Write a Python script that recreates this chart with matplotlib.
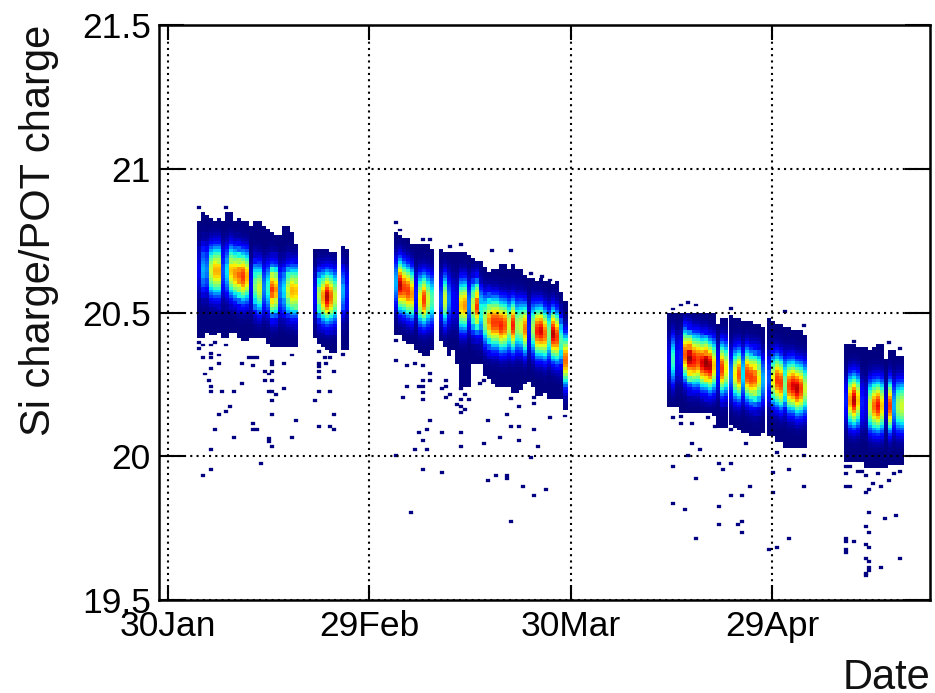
import numpy as np
import matplotlib
matplotlib.use("Agg")
import matplotlib.pyplot as plt

plt.rcParams['font.family'] = ['Liberation Sans', 'DejaVu Sans']

bin_x = 0.6
bin_y = 0.01

# each block: first day, then per column ridge / peak / top / bottom. None = empty column
starts = [4.39, 21.68, 33.74, 74.4, 83.6, 89.26, 100.7]

ridges = [
	[20.65, 20.65, 20.65, 20.645, 20.645, 20.64, 20.64, 20.64, 20.64, 20.635, 20.63, 20.625, 20.62,
	 20.59, 20.59, 20.585, 20.585, 20.585, 20.58, 20.58, 20.58, 20.58, 20.58, 20.575, 20.57],
	[20.56, 20.56, 20.555, 20.55, 20.55, 20.55, None, 20.57, 20.57],
	[20.60, 20.596, 20.584, 20.572, 20.567, 20.56, 20.549, 20.549, 20.549, 20.545, None, 20.543, 20.543, 20.543, 20.54,
	 20.53, 20.526, 20.526, 20.525, 20.52, 20.52, 20.50, 20.474, 20.47, 20.468, 20.46, 20.456, 20.456, 20.456, 20.456,
	 20.451, 20.451, 20.445, 20.445, 20.445, 20.439, 20.433, 20.428, 20.428, 20.422, 20.416, 20.40, 20.335],
	[20.335, 20.335, 20.34, 20.346, 20.352, 20.34, 20.335, 20.332, 20.329, 20.32, 20.317, 20.314, 20.306, 20.30, 20.30],
	[20.288, 20.288, 20.288, 20.286, 20.282, 20.277, 20.27, 20.27, 20.267],
	[20.27, 20.265, 20.26, 20.253, 20.25, 20.248, 20.242, 20.236, 20.236, 20.233],
	[20.19, 20.19, 20.19, 20.19, 20.184, 20.18, 20.178, 20.178, 20.178, 20.178, 20.175, 20.172, 20.172, 20.172, 20.172],
]

peaks = [
	[0.1, 0.3, 0.25, 0.6, 0.72, 0.72, 0.2, 0.35, 0.7, 0.75, 0.8, 0.85, 0.72,
	 0.12, 0.5, 0.6, 0.25, 0.4, 0.85, 0.75, 0.25, 0.35, 0.6, 0.72, 0.7],
	[0.12, 0.55, 0.75, 0.95, 0.8, 0.6, None, 0.3, 0.15],
	[0.3, 0.95, 0.85, 0.85, 0.75, 0.15, 0.65, 0.85, 0.6, 0.45, None, 0.2, 0.6, 0.25, 0.12,
	 0.1, 0.7, 0.75, 0.25, 0.6, 0.85, 0.4, 0.55, 0.75, 0.85, 0.85, 0.88, 0.82, 0.6, 0.88,
	 0.55, 0.6, 0.78, 0.15, 0.55, 0.88, 0.92, 0.8, 0.5, 0.95, 0.85, 0.45, 0.8],
	[0.1, 0.42, 0.12, 0.15, 0.82, 0.98, 0.9, 0.85, 0.92, 0.98, 0.95, 0.7, 0.15, 0.85, 0.65],
	[0.25, 0.65, 0.82, 0.35, 0.85, 0.85, 0.82, 0.65, 0.3],
	[0.2, 0.65, 0.85, 0.85, 0.5, 0.85, 0.92, 0.95, 0.85, 0.6],
	[0.15, 0.75, 0.95, 0.7, 0.15, 0.1, 0.6, 0.8, 0.9, 0.7, 0.08, 0.85, 0.3, 0.55, 0.6],
]

tops = [
	[20.82, 20.85, 20.84, 20.83, 20.82, 20.83, 20.82, 20.85, 20.85, 20.82, 20.83, 20.82, 20.82,
	 20.80, 20.82, 20.82, 20.80, 20.79, 20.78, 20.77, 20.77, 20.80, 20.80, 20.78, 20.74],
	[20.72, 20.72, 20.72, 20.72, 20.71, 20.71, None, 20.73, 20.72],
	[20.78, 20.77, 20.76, 20.76, 20.74, 20.74, 20.74, 20.74, 20.74, 20.72, None, 20.72, 20.71, 20.71, 20.71,
	 20.71, 20.71, 20.71, 20.70, 20.69, 20.68, 20.68, 20.66, 20.64, 20.65, 20.65, 20.67, 20.67, 20.65, 20.67,
	 20.65, 20.65, 20.63, 20.62, 20.62, 20.61, 20.62, 20.61, 20.61, 20.60, 20.61, 20.57, 20.54],
	[20.50, 20.50, 20.50, 20.50, 20.50, 20.50, 20.50, 20.50, 20.50, 20.50, 20.50, 20.50, 20.46, 20.48, 20.48],
	[20.49, 20.48, 20.48, 20.47, 20.47, 20.47, 20.46, 20.46, 20.45],
	[20.48, 20.47, 20.46, 20.46, 20.45, 20.445, 20.44, 20.44, 20.44, 20.42],
	[20.39, 20.39, 20.39, 20.38, 20.38, 20.38, 20.37, 20.375, 20.39, 20.39, 20.34, 20.37, 20.37, 20.35, 20.35],
]

bottoms = [
	[20.41, 20.41, 20.43, 20.42, 20.42, 20.43, 20.41, 20.41, 20.43, 20.43, 20.41, 20.40, 20.40,
	 20.41, 20.41, 20.41, 20.41, 20.39, 20.38, 20.38, 20.38, 20.38, 20.38, 20.38, 20.38],
	[20.41, 20.39, 20.38, 20.375, 20.36, 20.36, None, 20.37, 20.37],
	[20.42, 20.42, 20.40, 20.39, 20.39, 20.37, 20.36, 20.35, 20.35, 20.37, None, 20.40, 20.38, 20.35, 20.37,
	 20.32, 20.24, 20.24, 20.24, 20.32, 20.32, 20.32, 20.28, 20.27, 20.25, 20.24, 20.24, 20.24, 20.24, 20.22,
	 20.22, 20.23, 20.25, 20.26, 20.24, 20.21, 20.21, 20.22, 20.20, 20.20, 20.20, 20.20, 20.16],
	[20.17, 20.17, 20.17, 20.15, 20.15, 20.15, 20.15, 20.15, 20.15, 20.15, 20.15, 20.14, 20.10, 20.10, 20.10],
	[20.11, 20.10, 20.09, 20.08, 20.08, 20.07, 20.07, 20.07, 20.08],
	[20.07, 20.07, 20.05, 20.045, 20.03, 20.03, 20.03, 20.03, 20.03, 20.03],
	[19.98, 19.98, 19.98, 19.975, 19.975, 19.963, 19.963, 19.958, 19.958, 19.963, 19.963, 19.97, 19.97, 19.97, 19.97],
]

# relative height of a column, one entry per 0.01 away from its ridge
profile = [1.0, 0.985, 0.94, 0.87, 0.78, 0.68, 0.575, 0.47, 0.37, 0.28, 0.19, 0.13, 0.085, 0.05, 0.03, 0.015, 0.01, 0.0]

# single entries outside the main bands
stray_days = [
	4.69, 8.71, 4.69, 5.28, 6.47, 7.07, 8.71, 4.69, 5.28, 6.47, 6.47, 7.66, 7.66, 6.47, 5.58, 6.18, 6.47, 6.47, 8.11, 9.9,
	11.09, 11.09, 9.3, 8.71, 7.66, 7.07, 9.9, 6.47, 6.47, 5.28, 12.77, 12.17, 13.37, 12.77, 15.55, 15.55, 14.5, 15.55, 15.1,
	15.55, 14.5, 17.34, 17.34, 15.1, 15.55, 16.15, 15.55, 15.55, 12.72, 12.72, 13.37, 19.12, 15.1, 15.1, 18.53, 15.55, 13.91,
	22.54, 23.49, 24.18, 22.54, 22.54, 23.6, 22.54, 24.78, 22.54, 22.54, 24.18, 21.95, 24.78, 22.54, 24.18, 24.78, 26.17, 18.58,
	34.0, 34.6, 34.0, 34.0, 35.64, 36.83, 38.02, 39.06, 39.06, 38.02, 35.64, 37.42, 38.02, 38.02, 35.04, 38.02, 41.44, 41.44,
	40.85, 42.04, 41.44, 39.06, 38.61, 37.42, 40.85, 43.67, 38.02, 36.83, 38.61, 43.67, 34.0, 38.02, 40.85, 36.23, 43.67, 44.27,
	43.67, 44.86, 43.08, 43.67, 44.27, 43.67, 46.5, 47.1, 50.52, 47.69, 51.11, 52.3, 54.58, 49.48, 52.3, 47.1, 55.13, 54.09,
	48.88, 50.52, 50.52, 47.69, 52.9, 56.32, 54.54, 51.11, 52.3, 54.58, 56.92, 59.15, 51.11, 54.58, 51.11, 48.29, 54.09, 55.73,
	56.92, 42.04, 43.67, 39.06, 38.02,
	77.5, 76.41, 78.65, 75.22, 83.85, 91.89, 94.77, 75.22, 76.41, 76.41, 78.05, 80.43, 81.52, 83.85, 78.05, 79.24, 77.45, 86.14,
	75.22, 82.12, 83.85, 82.71, 78.65, 86.68, 83.85, 85.54, 75.22, 77.01, 82.12, 82.12, 85.54, 84.94, 85.54, 78.65, 90.7, 94.77,
	92.48, 90.15, 94.77, 90.15, 92.48, 90.7, 89.56,
	102.2, 107.37, 109.05, 101.02, 101.61, 101.02, 102.8, 103.4, 104.0, 105.78, 108.16, 109.0, 107.42, 105.03, 106.22, 101.02,
	101.61, 104.44, 104.0, 104.44, 106.82, 108.46, 104.0, 104.44, 101.02, 101.02, 102.2, 104.0, 104.44, 101.02, 101.02, 104.0,
	104.44, 109.05, 106.22, 104.44, 104.44, 104.0, 104.0,
]
stray_values = [
	20.866, 20.866, 20.395, 20.387, 20.387, 20.395, 20.387, 20.375, 20.344, 20.358, 20.344, 20.352, 20.323, 20.306, 20.286, 20.265, 20.242, 20.226, 20.226, 20.226,
	20.323, 20.254, 20.173, 20.156, 20.146, 20.094, 20.066, 20.024, 19.954, 19.933, 20.344, 20.344, 20.344, 20.317, 20.329, 20.319, 20.294, 20.294, 20.286,
	20.265, 20.265, 20.323, 20.236, 20.226, 20.226, 20.215, 20.194, 20.146, 20.114, 20.094, 20.094, 20.125, 20.062, 20.052, 20.066, 20.034, 19.975,
	20.365, 20.344, 20.344, 20.323, 20.313, 20.323, 20.294, 20.294, 20.274, 20.226, 20.226, 20.194, 20.146, 20.104, 20.104, 20.094, 20.354, 20.352,
	20.814, 20.787, 20.404, 20.334, 20.317, 20.323, 20.317, 20.288, 20.265, 20.265, 20.244, 20.244, 20.244, 20.221, 20.205, 20.196, 20.265, 20.242,
	20.236, 20.216, 20.205, 20.125, 20.094, 20.083, 20.083, 20.083, 20.055, 20.024, 20.024, 20.035, 20.003, 19.955, 19.944, 19.805, 20.236, 20.216,
	20.196, 20.196, 20.181, 20.172, 20.163, 20.153, 20.254, 20.265, 20.146, 20.125, 20.104, 20.104, 20.094, 20.066, 20.055, 20.045, 20.035, 19.996,
	19.934, 19.934, 19.924, 19.916, 19.895, 19.885, 19.864, 19.774, 20.174, 20.184, 20.135, 20.14, 20.2, 20.205, 20.716, 20.716, 20.636, 20.625,
	20.613, 20.731, 20.735, 20.755, 20.755,
	20.535, 20.526, 20.526, 20.512, 20.514, 20.504, 20.456, 20.136, 20.137, 20.114, 20.114, 20.136, 20.105, 20.093, 20.045, 20.024, 20.003, 20.045,
	19.965, 19.975, 19.975, 19.954, 19.923, 19.895, 19.864, 19.864, 19.836, 19.815, 19.826, 19.763, 19.773, 19.763, 19.735, 19.714, 20.013, 20.003,
	19.954, 19.944, 19.895, 19.874, 19.714, 19.683, 19.676,
	20.398, 20.396, 20.375, 19.963, 19.963, 19.94, 19.946, 19.946, 19.934, 19.94, 19.94, 19.946, 19.916, 19.905, 19.895, 19.895,
	19.895, 19.885, 19.874, 19.805, 19.784, 19.794, 19.756, 19.735, 19.714, 19.704, 19.704, 19.693, 19.683, 19.676, 19.666, 19.645,
	19.634, 19.645, 19.613, 19.613, 19.603, 19.592, 19.585,
]

x_tick_days = [0, 30, 60, 90]
x_tick_labels = ['30Jan', '29Feb', '30Mar', '29Apr']
y_ticks = [19.5, 20, 20.5, 21, 21.5]
y_tick_labels = ['19.5', '20', '20.5', '21', '21.5']

fig = plt.figure(figsize=(9.35, 6.93), dpi=100)
ax = fig.add_axes([159 / 935, 1 - 600 / 693, (930 - 159) / 935, 575 / 693])

y_edges = 19.5 + bin_y * np.arange(201)
y_mid = y_edges[:-1] + bin_y / 2

for b in range(len(starts)):
	n_col = len(ridges[b])
	z = np.full((200, n_col), np.nan)
	for c in range(n_col):
		if ridges[b][c] is None:
			continue
		for j in range(200):
			if bottoms[b][c] <= y_mid[j] <= tops[b][c]:
				k = int(round(abs(y_mid[j] - ridges[b][c]) / bin_y))
				k = min(k, len(profile) - 1)
				z[j, c] = peaks[b][c] * profile[k]
	x_edges = starts[b] + bin_x * np.arange(n_col + 1)
	ax.pcolormesh(x_edges, y_edges, np.ma.masked_invalid(z), cmap='jet', vmin=0, vmax=1, zorder=1)

ax.bar(stray_days, bin_y, width=bin_x, bottom=np.array(stray_values) - bin_y / 2,
	color='#000080', edgecolor='#000080', linewidth=0.2, zorder=1)

ax.set_xlim(-1.27, 113.5)
ax.set_ylim(19.5, 21.5)
ax.set_xticks(x_tick_days)
ax.set_xticklabels(x_tick_labels)
ax.set_yticks(y_ticks)
ax.set_yticklabels(y_tick_labels)

ax.grid(True, color='black', linestyle=(0, (1, 2)), linewidth=1.5, zorder=2)
ax.set_axisbelow(False)
ax.tick_params(axis='x', direction='in', top=True, length=11, width=1.5, labelsize=25.5, pad=7)
ax.tick_params(axis='y', direction='in', right=True, length=18, width=1.5, labelsize=25.5, pad=6)
for s in ax.spines.values():
	s.set_linewidth(1.8)

fig.text(39 / 935, 1 - 25 / 693, 'Si charge/POT charge', rotation=90, ha='center', va='top', fontsize=30, color='#111111')
fig.text(930 / 935, 1 - 689 / 693, 'Date', ha='right', va='baseline', fontsize=30, color='#111111')

fig.savefig('out.png', dpi=100)
